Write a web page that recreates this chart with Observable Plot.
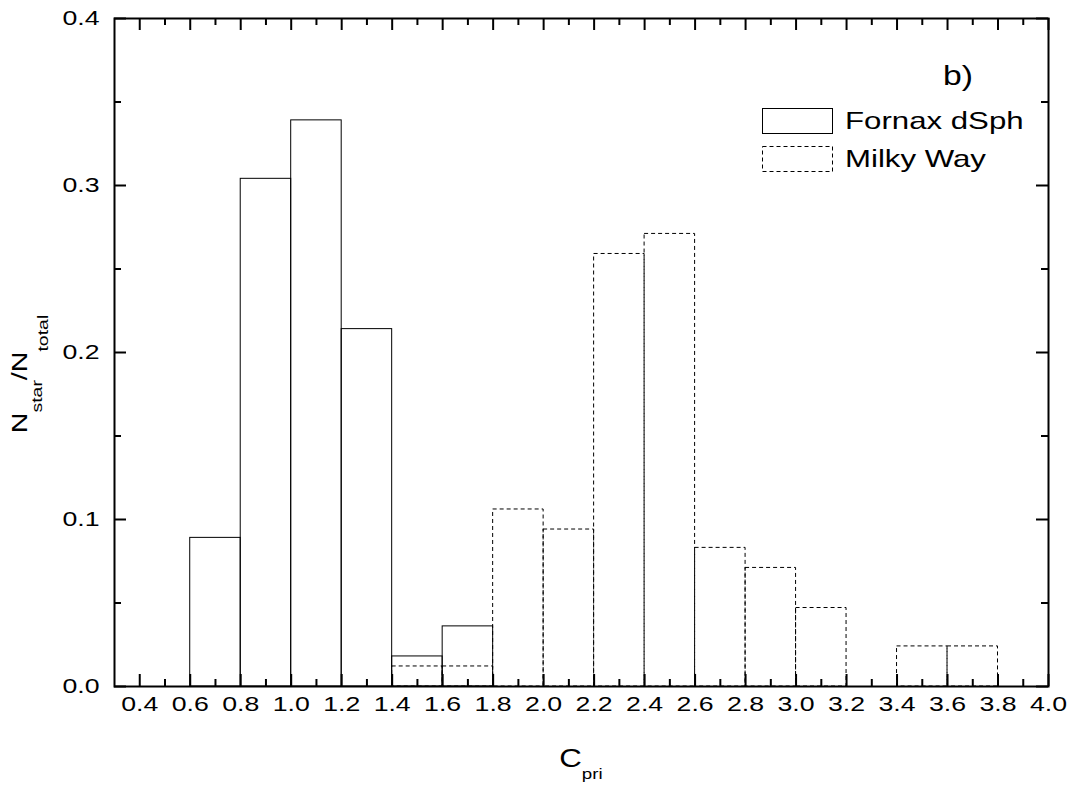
<!DOCTYPE html>
<html>
<head>
<meta charset="utf-8">
<script src="https://cdn.jsdelivr.net/npm/d3@7"></script>
<script src="https://cdn.jsdelivr.net/npm/@observablehq/plot@0.6"></script>
<style>
  body { margin: 0; background: #fff; }
</style>
</head>
<body>
<script>
// Normalised C_pri histograms, bins 0.2 wide (left edges listed)
const binWidth = 0.2;
const fornaxBins = [0.6, 0.8, 1.0, 1.2, 1.4, 1.6];
const fornaxFractions = [0.089, 0.304, 0.339, 0.214, 0.018, 0.036];
const milkyWayBins = [1.4, 1.6, 1.8, 2.0, 2.2, 2.4, 2.6, 2.8, 3.0, 3.4, 3.6];
const milkyWayFractions = [0.012, 0.012, 0.106, 0.094, 0.259, 0.271, 0.083, 0.071, 0.047, 0.024, 0.024];

const seriesNames = ["Fornax dSph", "Milky Way"];
const panelTag = "b)";

// Axis ticks
const xTicks = [0.4, 0.6, 0.8, 1.0, 1.2, 1.4, 1.6, 1.8, 2.0, 2.2, 2.4, 2.6, 2.8, 3.0, 3.2, 3.4, 3.6, 3.8, 4.0];
const xMinorTicks = [0.5, 0.7, 0.9, 1.1, 1.3, 1.5, 1.7, 1.9, 2.1, 2.3, 2.5, 2.7, 2.9, 3.1, 3.3, 3.5, 3.7, 3.9];
const yTicks = [0.0, 0.1, 0.2, 0.3, 0.4];
const yMinorTicks = [0.05, 0.15, 0.25, 0.35];

const fornax = fornaxBins.map((x, i) => ({x1: x, x2: x + binWidth, v: fornaxFractions[i]}));
const milkyWay = milkyWayBins.map((x, i) => ({x1: x, x2: x + binWidth, v: milkyWayFractions[i]}));

const W = 1073, H = 795;
const M = {top: 18, right: 25, bottom: 109, left: 114};
const innerW = W - M.left - M.right;
const innerH = H - M.top - M.bottom;
const majorLen = 12, minorLen = 7;
const font = "'Liberation Sans', Arial, Helvetica, sans-serif";
const stretch = 1.27;

const tickStyle = {stroke: "black", strokeWidth: 2};

const chart = Plot.plot({
  width: W,
  height: H,
  marginTop: M.top,
  marginRight: M.right,
  marginBottom: M.bottom,
  marginLeft: M.left,
  style: {fontFamily: font, fontSize: "21px", color: "black", background: "white"},
  x: {domain: [0.3, 4.0]},
  y: {domain: [0, 0.4]},
  marks: [
    // Milky Way histogram (dashed outline)
    Plot.rect(milkyWay, {x1: "x1", x2: "x2", y1: 0, y2: "v", fill: "none", stroke: "black", strokeWidth: 1, strokeDasharray: "4,3"}),
    // Fornax dSph histogram (solid outline)
    Plot.rect(fornax, {x1: "x1", x2: "x2", y1: 0, y2: "v", fill: "none", stroke: "black", strokeWidth: 1}),
    // inward ticks on all four sides
    Plot.ruleX(xTicks, {insetTop: innerH - majorLen, ...tickStyle}),
    Plot.ruleX(xTicks, {insetBottom: innerH - majorLen, ...tickStyle}),
    Plot.ruleX(xMinorTicks, {insetTop: innerH - minorLen, ...tickStyle}),
    Plot.ruleX(xMinorTicks, {insetBottom: innerH - minorLen, ...tickStyle}),
    Plot.ruleY(yTicks, {insetRight: innerW - majorLen, ...tickStyle}),
    Plot.ruleY(yTicks, {insetLeft: innerW - majorLen, ...tickStyle}),
    Plot.ruleY(yMinorTicks, {insetRight: innerW - minorLen, ...tickStyle}),
    Plot.ruleY(yMinorTicks, {insetLeft: innerW - minorLen, ...tickStyle}),
    Plot.axisX({ticks: xTicks, tickSize: 0, tickPadding: 10, tickFormat: d3.format(".1f"), label: null}),
    Plot.axisY({ticks: yTicks, tickSize: 0, tickPadding: 15, tickFormat: d3.format(".1f"), label: null}),
    Plot.frame({stroke: "black", strokeWidth: 2})
  ]
});

document.body.appendChild(chart);

const svg = d3.select(chart);

// widen tick labels along their baseline, pivoting on the label's own x
svg.selectAll("text").each(function() {
  const t = this.getAttribute("transform") || "";
  let x = parseFloat(this.getAttribute("x"));
  if (!isFinite(x)) x = 0;
  this.setAttribute("transform", `${t} translate(${x},0) scale(${stretch},1) translate(${-x},0)`);
});

const extra = svg.append("g")
  .attr("font-family", font)
  .attr("fill", "black");

// y-axis title: N_star / N_total
const yTitle = extra.append("text")
  .attr("transform", `translate(27,374) rotate(-90) scale(1.3,1)`)
  .attr("text-anchor", "middle")
  .attr("font-size", 22);
yTitle.append("tspan").text("N");
yTitle.append("tspan").attr("dy", 15).attr("font-size", 15).text("star");
yTitle.append("tspan").attr("dy", -15).text("/N");
yTitle.append("tspan").attr("dy", 21).attr("font-size", 15).text("total");

// x-axis title: C_pri
const xTitle = extra.append("text")
  .attr("transform", `translate(581,767) scale(1.25,1)`)
  .attr("text-anchor", "middle")
  .attr("font-size", 25);
xTitle.append("tspan").text("C");
xTitle.append("tspan").attr("dy", 12).attr("font-size", 15).text("pri");

// panel tag
extra.append("text")
  .attr("transform", `translate(943,85) scale(1.25,1)`)
  .attr("text-anchor", "start")
  .attr("font-size", 27)
  .text(panelTag);

// legend
const legend = extra.append("g");
const dashes = [null, "4,3"];
seriesNames.forEach((name, i) => {
  const top = 108 + i * 38;
  legend.append("rect")
    .attr("x", 762.5).attr("y", top + 0.5)
    .attr("width", 70).attr("height", 25)
    .attr("fill", "none").attr("stroke", "black").attr("stroke-width", 1)
    .attr("stroke-dasharray", dashes[i]);
  legend.append("text")
    .attr("transform", `translate(845,${top + 21}) scale(1.3,1)`)
    .attr("text-anchor", "start")
    .attr("font-size", 24)
    .text(name);
});
</script>
</body>
</html>
